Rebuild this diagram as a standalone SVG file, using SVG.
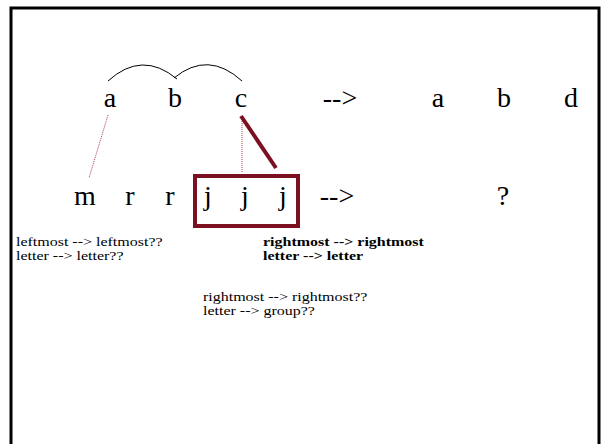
<svg xmlns="http://www.w3.org/2000/svg" width="603" height="444" viewBox="0 0 603 444">
  <style>
    .big { font-family: "Liberation Serif", "Times New Roman", serif; font-size: 28px; fill: #000; text-anchor: middle; }
    .small { font-family: "Liberation Serif", "Times New Roman", serif; font-size: 13px; fill: #000; }
    .bold { font-weight: bold; }
    .arc { fill: none; stroke: #000; stroke-width: 1; }
    .dot { fill: none; stroke: #b03a4a; stroke-width: 1; stroke-dasharray: 1 1; }
    .heavy { fill: none; stroke: #7b1020; stroke-width: 4; }
  </style>
  <rect width="603" height="444" fill="#fff"/>
  <!-- slide frame -->
  <rect x="11" y="8" width="588" height="460" fill="none" stroke="#000" stroke-width="3"/>

  <!-- connectors -->
  <g id="connectors">
    <path class="arc" d="M108,81 Q142,50 177,79"/>
    <path class="arc" d="M174,78 Q208,50 242,81"/>
    <line class="dot" x1="108" y1="115" x2="89" y2="178"/>
    <line class="dot" x1="242" y1="117" x2="242" y2="173"/>
    <line class="heavy" x1="241" y1="116" x2="276" y2="168"/>
  </g>

  <!-- top string -->
  <g id="top-row">
    <text class="big" x="110" y="107">a</text>
    <text class="big" x="175" y="107">b</text>
    <text class="big" x="241" y="107">c</text>
    <text class="big" x="340" y="107">--&gt;</text>
    <text class="big" x="438" y="107">a</text>
    <text class="big" x="504" y="107">b</text>
    <text class="big" x="571" y="107">d</text>
  </g>

  <!-- bottom string -->
  <g id="bottom-row">
    <text class="big" x="85" y="205">m</text>
    <text class="big" x="130" y="205">r</text>
    <text class="big" x="170" y="205">r</text>
    <text class="big" x="208" y="205">j</text>
    <text class="big" x="245" y="205">j</text>
    <text class="big" x="283" y="205">j</text>
    <text class="big" x="337" y="205">--&gt;</text>
    <text class="big" x="503" y="205">?</text>
  </g>

  <!-- group box around jjj -->
  <g id="group-box">
    <rect class="heavy" x="195" y="176" width="103" height="50"/>
  </g>

  <!-- notes (wide-set small type) -->
  <g id="note-left" transform="translate(16,0) scale(1.23,1)">
    <text class="small" x="0" y="246">leftmost --&gt; leftmost??</text>
    <text class="small" x="0" y="260">letter --&gt; letter??</text>
  </g>
  <g id="note-bold" transform="translate(263,0) scale(1.23,1)">
    <text class="small bold" x="0" y="246">rightmost --&gt; rightmost</text>
    <text class="small bold" x="0" y="260">letter --&gt; letter</text>
  </g>
  <g id="note-mid" transform="translate(203,0) scale(1.23,1)">
    <text class="small" x="0" y="301">rightmost --&gt; rightmost??</text>
    <text class="small" x="0" y="315">letter --&gt; group??</text>
  </g>
</svg>
